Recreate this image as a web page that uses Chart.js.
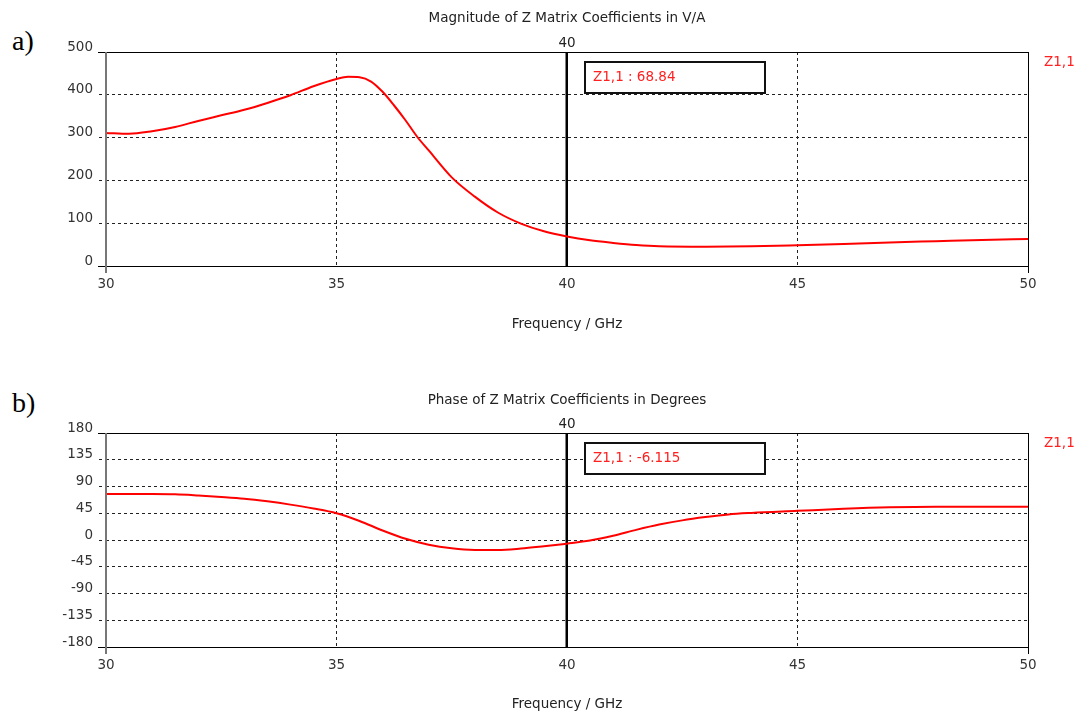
<!DOCTYPE html>
<html>
<head>
<meta charset="utf-8">
<script src="https://cdn.jsdelivr.net/npm/chart.js@4.4.1/dist/chart.umd.min.js"></script>
<style>
body { margin: 0; background: #fff; width: 1083px; height: 713px; position: relative; overflow: hidden; }
canvas { position: absolute; left: 0; }
.tag { position: absolute; left: 12px; font-family: "Liberation Serif", "Times New Roman", serif; font-size: 28px; color: #000; line-height: 30px; }
</style>
</head>
<body>
<div class="tag" style="top:26px">a)</div>
<div class="tag" style="top:388px">b)</div>
<canvas id="magChart" width="1083" height="360" style="top:0"></canvas>
<canvas id="phaseChart" width="1083" height="353" style="top:360px"></canvas>
<script>
// frequency axis (GHz)
const xTicks = [30, 35, 40, 45, 50];

// |Z1,1| in V/A
const magFreq = [30, 30.5, 31, 31.5, 32, 32.5, 33, 33.5, 34, 34.5, 35, 35.25, 35.5, 35.75, 36, 36.25, 36.5, 36.75, 37, 37.5, 38, 38.5, 39, 39.5, 40, 40.5, 41, 41.5, 42, 43, 44, 45, 46, 47, 48, 49, 50];
const magValues = [311, 309, 315, 325, 339, 352, 365, 381, 399, 420, 437, 442, 441, 431, 407, 375, 340, 302, 270, 207, 162, 125, 99, 81, 68.84, 60, 54, 49, 46, 45, 46, 48.5, 51.5, 55, 58, 61, 63];
const magTicks = [0, 100, 200, 300, 400, 500];

// phase of Z1,1 in degrees
const phaseFreq = [30, 31, 31.5, 32, 32.5, 33, 33.5, 34, 34.5, 35, 35.5, 36, 36.5, 37, 37.5, 38, 38.5, 39, 39.5, 40, 40.5, 41, 41.5, 42, 42.5, 43, 43.5, 44, 45, 46, 47, 48, 49, 50];
const phaseValues = [77.4, 77.4, 77, 75, 72.5, 69.5, 65, 59.5, 53, 45, 32, 16, 2, -8, -14, -16.8, -17, -14.5, -10.5, -6.115, -1, 7, 17, 26, 33, 38.5, 43, 45.5, 49, 52.5, 55, 56, 56, 56];
const phaseTicks = [-180, -135, -90, -45, 0, 45, 90, 135, 180];

// marker
const markerAt = 40;
const magMarkerText = 'Z1,1 : 68.84';
const phaseMarkerText = 'Z1,1 : -6.115';

const FONT = '13.5px "DejaVu Sans", sans-serif';
Chart.defaults.font.family = '"DejaVu Sans", sans-serif';
Chart.defaults.font.size = 13.5;
Chart.defaults.color = '#333';

// frame, marker, titles
const framePlugin = {
    id: 'frame',
    beforeDatasetsDraw(chart, args, opts) {
        const { ctx, chartArea: a, scales: { x } } = chart;
        const mx = Math.round(x.getPixelForValue(markerAt));
        ctx.save();
        ctx.fillStyle = '#000';
        ctx.fillRect(mx - 1.5, a.top, 2.5, a.bottom - a.top);
        ctx.restore();
    },
    afterDraw(chart, args, opts) {
        const { ctx, chartArea: a, scales: { x } } = chart;
        const cx = (a.left + a.right) / 2;
        const mx = Math.round(x.getPixelForValue(markerAt));
        ctx.save();

        // frame
        ctx.lineWidth = 1;
        ctx.strokeStyle = '#000';
        ctx.beginPath();
        ctx.moveTo(a.left - 8, Math.round(a.top) + 0.5);
        ctx.lineTo(a.right, Math.round(a.top) + 0.5);
        ctx.moveTo(a.left - 8, Math.round(a.bottom) + 0.5);
        ctx.lineTo(a.right, Math.round(a.bottom) + 0.5);
        ctx.moveTo(Math.round(a.right) + 0.5, a.top);
        ctx.lineTo(Math.round(a.right) + 0.5, a.bottom + 7);
        ctx.stroke();
        ctx.strokeStyle = '#777';
        ctx.lineWidth = 2;
        ctx.beginPath();
        ctx.moveTo(Math.round(a.left), a.top);
        ctx.lineTo(Math.round(a.left), a.bottom + 7);
        ctx.stroke();

        // titles
        ctx.fillStyle = '#222';
        ctx.font = FONT;
        ctx.textAlign = 'center';
        ctx.textBaseline = 'middle';
        ctx.fillText(opts.title, cx, opts.titleY);
        ctx.fillText('Frequency / GHz', cx, opts.xTitleY);
        ctx.fillText(String(markerAt), mx, a.top - 9);

        // marker box
        const bx = mx + 18, by = a.top + 10;
        ctx.fillStyle = '#fff';
        ctx.fillRect(bx, by, 180, 31);
        ctx.strokeStyle = '#111';
        ctx.lineWidth = 2;
        ctx.strokeRect(bx, by, 180, 31);
        ctx.fillStyle = '#ff2020';
        ctx.textAlign = 'left';
        ctx.fillText(opts.boxText, bx + 8, by + 15.5);

        // legend
        ctx.fillText('Z1,1', a.right + 16, a.top + 10);
        ctx.restore();
    }
};

function makeChart(id, freq, values, ticks, bottomH, topPad, frameOpts) {
    const pts = freq.map((f, i) => ({ x: f, y: values[i] }));
    return new Chart(document.getElementById(id), {
        type: 'line',
        data: {
            datasets: [{
                data: pts,
                borderColor: '#ff0000',
                borderWidth: 2,
                pointRadius: 0,
                cubicInterpolationMode: 'monotone',
                fill: false
            }]
        },
        options: {
            responsive: false,
            animation: false,
            devicePixelRatio: 1,
            layout: { padding: { top: topPad, right: 55, left: 0, bottom: 0 } },
            plugins: {
                legend: { display: false },
                tooltip: { enabled: false },
                frame: frameOpts
            },
            scales: {
                x: {
                    type: 'linear',
                    min: xTicks[0],
                    max: xTicks[xTicks.length - 1],
                    afterBuildTicks: s => { s.ticks = xTicks.map(v => ({ value: v })); },
                    afterFit: s => { s.height = bottomH; },
                    border: { display: false, dash: [3, 3] },
                    grid: {
                        drawTicks: false,
                        color: c => (c.tick && (c.tick.value === xTicks[0] || c.tick.value === xTicks[xTicks.length - 1])) ? 'rgba(0,0,0,0)' : '#222',
                        lineWidth: 1
                    },
                    ticks: { padding: 10, maxRotation: 0, autoSkip: false }
                },
                y: {
                    min: ticks[0],
                    max: ticks[ticks.length - 1],
                    afterBuildTicks: s => { s.ticks = ticks.map(v => ({ value: v })); },
                    afterFit: s => { s.width = 106; },
                    border: { display: false, dash: [3, 3] },
                    grid: {
                        color: '#222',
                        tickLength: 7,
                        tickColor: '#222',
                        tickBorderDash: [3, 3]
                    },
                    ticks: { padding: 6, labelOffset: -5, autoSkip: false }
                }
            }
        },
        plugins: [framePlugin]
    });
}

makeChart('magChart', magFreq, magValues, magTicks, 360 - 266, 52, {
    title: 'Magnitude of Z Matrix Coefficients in V/A',
    titleY: 18,
    xTitleY: 324,
    boxText: magMarkerText
});

makeChart('phaseChart', phaseFreq, phaseValues, phaseTicks, 353 - 287, 73, {
    title: 'Phase of Z Matrix Coefficients in Degrees',
    titleY: 40,
    xTitleY: 344,
    boxText: phaseMarkerText
});
</script>
</body>
</html>
